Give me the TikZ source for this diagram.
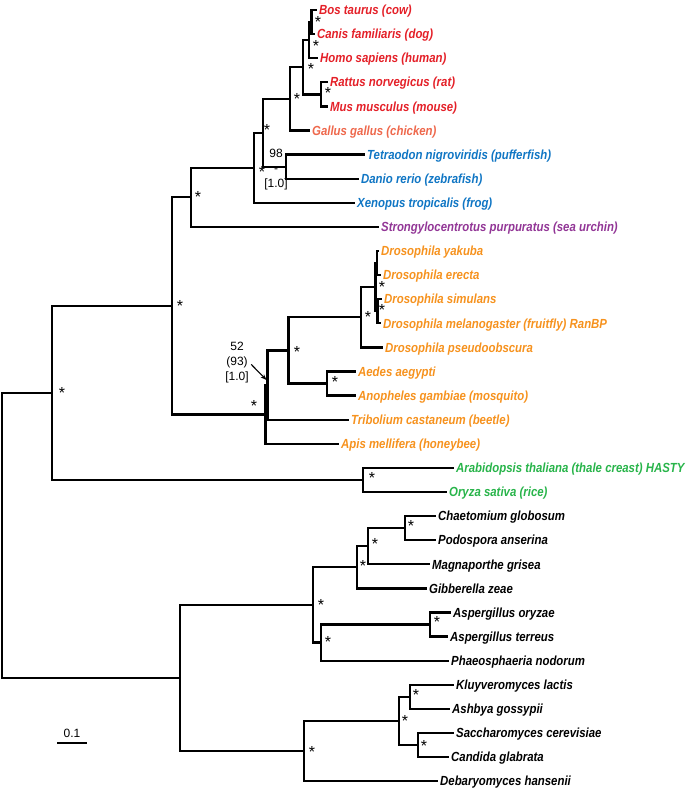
\documentclass[tikz,border=0pt]{standalone}
\usepackage{fontspec}
\setmainfont{Liberation Sans}
\newfontfamily\taxonfont[FakeStretch=0.865]{Liberation Sans}
\usepackage{tikz}
\usetikzlibrary{arrows.meta}

\definecolor{mamred}{RGB}{228,32,40}
\definecolor{birdred}{RGB}{238,104,76}
\definecolor{fishblue}{RGB}{16,118,196}
\definecolor{urchinpurple}{RGB}{146,54,150}
\definecolor{insectorange}{RGB}{246,146,30}
\definecolor{plantgreen}{RGB}{40,180,74}

\begin{document}
\begin{tikzpicture}[x=1pt, y=-1pt, line width=2.3pt,
  taxon/.style={anchor=west, inner sep=1.5pt, text height=9.4pt, text depth=0pt,
    font=\taxonfont\fontsize{13.2}{15}\selectfont\bfseries\itshape},
  bootstar/.style={inner sep=0pt, text height=11.4pt, text depth=-6.8pt, font=\fontsize{16}{16}\selectfont},
  support/.style={inner sep=0pt, align=center, font=\fontsize{12}{15}\selectfont}]
  \useasboundingbox (0,0) rectangle (685,791);

  % leaves
  \node[taxon, text=mamred] (bos) at (316.5,10) {Bos taurus (cow)};
  \node[taxon, text=mamred] (canis) at (314.5,34.1) {Canis familiaris (dog)};
  \node[taxon, text=mamred] (homo) at (317.5,58.2) {Homo sapiens (human)};
  \node[taxon, text=mamred] (rattus) at (327.5,82.3) {Rattus norvegicus (rat)};
  \node[taxon, text=mamred] (mus) at (327.5,106.4) {Mus musculus (mouse)};
  \node[taxon, text=birdred] (gallus) at (309.5,130.5) {Gallus gallus (chicken)};
  \node[taxon, text=fishblue] (tetra) at (364.5,154.6) {Tetraodon nigroviridis (pufferfish)};
  \node[taxon, text=fishblue] (danio) at (358.5,178.7) {Danio rerio (zebrafish)};
  \node[taxon, text=fishblue] (xeno) at (354.5,202.8) {Xenopus tropicalis (frog)};
  \node[taxon, text=urchinpurple] (urchin) at (378.5,226.9) {Strongylocentrotus purpuratus (sea urchin)};
  \node[taxon, text=insectorange] (yak) at (378.5,251) {Drosophila yakuba};
  \node[taxon, text=insectorange] (ere) at (380.5,275.1) {Drosophila erecta};
  \node[taxon, text=insectorange] (sim) at (381.5,299.2) {Drosophila simulans};
  \node[taxon, text=insectorange] (mel) at (380.5,323.3) {Drosophila melanogaster (fruitfly) RanBP};
  \node[taxon, text=insectorange] (pseudo) at (382.5,347.4) {Drosophila pseudoobscura};
  \node[taxon, text=insectorange] (aedes) at (355.5,371.5) {Aedes aegypti};
  \node[taxon, text=insectorange] (anoph) at (355.5,395.6) {Anopheles gambiae (mosquito)};
  \node[taxon, text=insectorange] (trib) at (348.5,419.7) {Tribolium castaneum (beetle)};
  \node[taxon, text=insectorange] (apis) at (338.5,443.8) {Apis mellifera (honeybee)};
  \node[taxon, text=plantgreen] (arab) at (453.5,467.9) {Arabidopsis thaliana (thale creast) HASTY};
  \node[taxon, text=plantgreen] (oryza) at (446.5,492) {Oryza sativa (rice)};
  \node[taxon] (chaet) at (435.5,516.1) {Chaetomium globosum};
  \node[taxon] (podo) at (435.5,540.2) {Podospora anserina};
  \node[taxon] (magna) at (429.5,564.3) {Magnaporthe grisea};
  \node[taxon] (gibb) at (426.5,588.4) {Gibberella zeae};
  \node[taxon] (aory) at (450.5,612.5) {Aspergillus oryzae};
  \node[taxon] (ater) at (447.5,636.6) {Aspergillus terreus};
  \node[taxon] (phaeo) at (448.5,660.7) {Phaeosphaeria nodorum};
  \node[taxon] (kluy) at (453.5,684.8) {Kluyveromyces lactis};
  \node[taxon] (ashbya) at (449.5,708.9) {Ashbya gossypii};
  \node[taxon] (sacc) at (453.5,733) {Saccharomyces cerevisiae};
  \node[taxon] (cand) at (448.5,757.1) {Candida glabrata};
  \node[taxon] (deb) at (437.5,781.2) {Debaryomyces hansenii};

  % inner nodes
  \coordinate (nRoot) at (2,535.5);
  \coordinate (nBilPl) at (52,392.9);
  \coordinate (nProt) at (172,305.9);
  \coordinate (nDeut) at (191,197.3);
  \coordinate (nVert) at (254,167.8);
  \coordinate (nAF) at (263,132.8);
  \coordinate (nAmn) at (290,98.9);
  \coordinate (nMam) at (303,67.2);
  \coordinate (nBCH) at (309,40.1);
  \coordinate (nBC) at (311.5,22);
  \coordinate (nRM) at (321,94.4);
  \coordinate (nFish) at (286,166.7);
  \coordinate (nN1) at (265.5,414.4);
  \coordinate (nN2) at (267.5,385);
  \coordinate (nDipt) at (288.5,350.4);
  \coordinate (nDros) at (361,317.3);
  \coordinate (nD) at (375.5,287.2);
  \coordinate (nYE) at (377,263);
  \coordinate (nSM) at (377.5,311.2);
  \coordinate (nMosq) at (327,383.6);
  \coordinate (nPlant) at (363,480);
  \coordinate (nFungi) at (180,678.1);
  \coordinate (nPez) at (313,605);
  \coordinate (nSord) at (357,567.3);
  \coordinate (nCPM) at (368,546.2);
  \coordinate (nCP) at (405,528.2);
  \coordinate (nAspPh) at (321,642.6);
  \coordinate (nAsp) at (430,624.6);
  \coordinate (nSaccD) at (304,751.1);
  \coordinate (nSacc) at (399,721);
  \coordinate (nKA) at (410,696.9);
  \coordinate (nSC) at (418,745.1);

  % branches
  \foreach \p/\c in {nRoot/nBilPl, nRoot/nFungi, nBilPl/nProt, nBilPl/nPlant,
      nProt/nDeut, nProt/nN1, nDeut/nVert, nDeut/urchin, nVert/nAF, nVert/xeno,
      nAF/nAmn, nAF/nFish, nAmn/nMam, nAmn/gallus, nMam/nBCH, nMam/nRM,
      nBCH/nBC, nBCH/homo, nBC/bos, nBC/canis, nRM/rattus, nRM/mus,
      nFish/tetra, nFish/danio, nN1/nN2, nN1/apis, nN2/nDipt, nN2/trib,
      nDipt/nDros, nDipt/nMosq, nDros/nD, nDros/pseudo, nD/nYE, nD/nSM,
      nYE/yak, nYE/ere, nSM/sim, nSM/mel, nMosq/aedes, nMosq/anoph,
      nPlant/arab, nPlant/oryza, nFungi/nPez, nFungi/nSaccD,
      nPez/nSord, nPez/nAspPh, nSord/nCPM, nSord/gibb, nCPM/nCP, nCPM/magna,
      nCP/chaet, nCP/podo, nAspPh/nAsp, nAspPh/phaeo, nAsp/aory, nAsp/ater,
      nSaccD/nSacc, nSaccD/deb, nSacc/nKA, nSacc/nSC, nKA/kluy, nKA/ashbya,
      nSC/sacc, nSC/cand}
    \draw (\p) |- (\c);

  % support stars
  \foreach \x/\y [count=\i] in {318/22, 316/46, 311/69, 328/93, 297/99, 267/130,
      262/172, 198/197, 180/306, 62/393, 382/287, 382/310, 368/317, 297/352,
      335/382, 254/406, 372/478, 411/526, 375/544, 363/566, 321/605, 437/622,
      328/642, 416/695, 405/721, 424/746, 312/752}
    \node[bootstar] (star\i) at (\x,\y) {*};

  \node[support] (lbl98) at (276,170) {98\\-\\{[1.0]}};
  \node[support] (lbl52) at (237,363) {52\\(93)\\{[1.0]}};
  \coordinate (tip52) at (266.5,380);
  \draw[line width=1.1pt, -{Stealth[length=6pt, width=4.5pt]}, shorten <=2pt] (lbl52.east) -- (tip52);

  % scale bar
  \coordinate (barL) at (57,743);
  \coordinate (barR) at (87,743);
  \draw (barL) -- (barR) node[support, midway, above=4pt] (barlbl) {0.1};
\end{tikzpicture}
\end{document}
